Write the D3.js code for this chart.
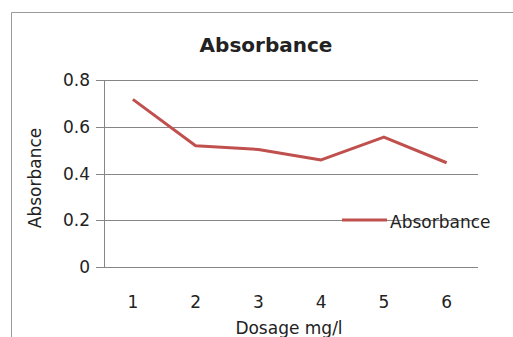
<!DOCTYPE html>
<html>
<head>
<meta charset="utf-8">
<script src="https://cdn.jsdelivr.net/npm/d3@7"></script>
<style>
  body { margin: 0; background: #fff; }
  text { font-family: "DejaVu Sans", sans-serif; fill: #222; }
</style>
</head>
<body>
<div class="chart"></div>
<script>
// data
var dosage = ["1", "2", "3", "4", "5", "6"];
var absorbance = [0.717, 0.519, 0.503, 0.458, 0.556, 0.446];
var yTicks = [0, 0.2, 0.4, 0.6, 0.8];

var svgWidth = 513;
var svgHeight = 337;

var svg = d3.select(".chart")
  .append("svg")
  .attr("width", svgWidth)
  .attr("height", svgHeight);

// outer chart frame (top and left edges visible)
svg.append("path")
  .attr("d", "M11.5,340 V12.5 H513")
  .attr("fill", "none")
  .attr("stroke", "#9a9a9a")
  .attr("stroke-width", 1);

var plotLeft = 104, plotRight = 478;
var xScale = d3.scalePoint()
  .domain(dosage)
  .range([101.5, 478])
  .padding(0.5);

var yScale = d3.scaleLinear()
  .domain([0, 0.8])
  .range([267, 80]);

// gridlines
svg.append("g")
  .selectAll("line")
  .data(yTicks)
  .enter()
  .append("line")
  .attr("x1", 96)
  .attr("x2", plotRight)
  .attr("y1", d => Math.round(yScale(d)) + 0.5)
  .attr("y2", d => Math.round(yScale(d)) + 0.5)
  .attr("stroke", "#868686")
  .attr("stroke-width", 1);

// y axis line
svg.append("line")
  .attr("x1", plotLeft + 0.5)
  .attr("x2", plotLeft + 0.5)
  .attr("y1", yScale(0.8))
  .attr("y2", yScale(0) + 0.5)
  .attr("stroke", "#868686");

// y tick labels
svg.append("g")
  .selectAll("text")
  .data(yTicks)
  .enter()
  .append("text")
  .attr("x", 90)
  .attr("y", d => yScale(d))
  .attr("dy", "0.36em")
  .attr("text-anchor", "end")
  .attr("font-size", 17)
  .text(d => d === 0 ? "0" : d3.format(".1f")(d));

// x tick labels
svg.append("g")
  .selectAll("text")
  .data(dosage)
  .enter()
  .append("text")
  .attr("x", d => xScale(d))
  .attr("y", 308)
  .attr("text-anchor", "middle")
  .attr("font-size", 17)
  .text(d => d);

// the series line
var line = d3.line()
  .x((d, i) => xScale(dosage[i]))
  .y(d => yScale(d));

svg.append("path")
  .datum(absorbance)
  .attr("d", line)
  .attr("fill", "none")
  .attr("stroke", "#c0504d")
  .attr("stroke-width", 3)
  .attr("stroke-linejoin", "round");

// title
svg.append("text")
  .attr("x", 266)
  .attr("y", 52)
  .attr("text-anchor", "middle")
  .attr("font-size", 20)
  .attr("font-weight", "bold")
  .text("Absorbance");

// y axis title
svg.append("text")
  .attr("transform", "translate(41, 178) rotate(-90)")
  .attr("text-anchor", "middle")
  .attr("font-size", 17)
  .text("Absorbance");

// x axis title
svg.append("text")
  .attr("x", 289)
  .attr("y", 334)
  .attr("text-anchor", "middle")
  .attr("font-size", 17)
  .text("Dosage mg/l");

// legend
var legend = svg.append("g");
legend.append("line")
  .attr("x1", 342)
  .attr("x2", 387)
  .attr("y1", 220)
  .attr("y2", 220)
  .attr("stroke", "#c0504d")
  .attr("stroke-width", 3);
legend.append("text")
  .attr("x", 390)
  .attr("y", 228)
  .attr("font-size", 17)
  .text("Absorbance");
</script>
</body>
</html>
